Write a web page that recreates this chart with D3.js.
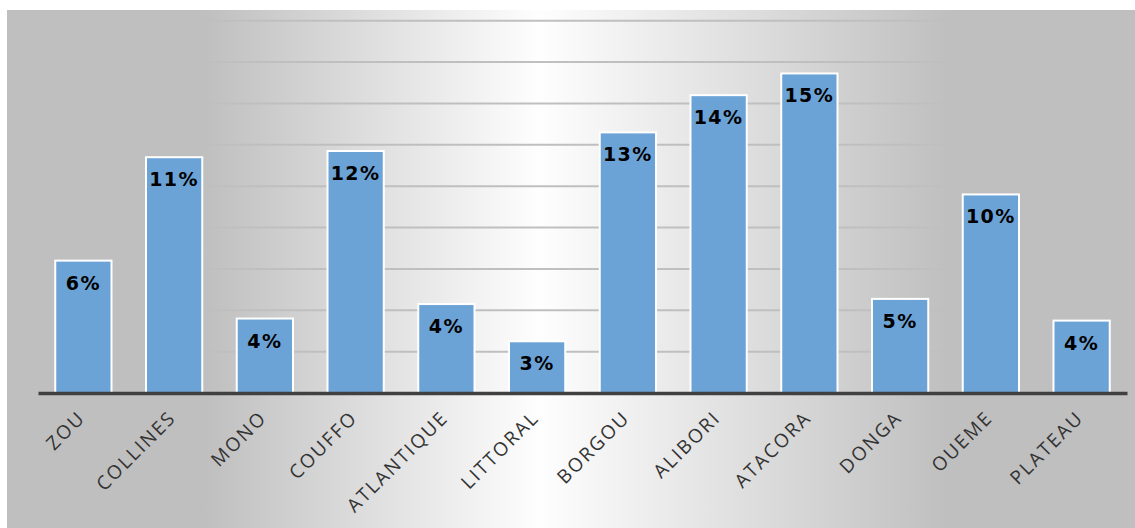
<!DOCTYPE html>
<html lang="fr">
  <head>
    <meta charset="utf-8">
    <title>Répartition par département</title>
    <script src="https://d3js.org/d3.v7.min.js"></script>
    <style>
      body { margin: 0; background: #ffffff; }
      svg { display: block; }
      .value {
        font-family: "DejaVu Sans", sans-serif;
        font-size: 19px;
        font-weight: bold;
        letter-spacing: 1.5px;
        fill: #000000;
        text-anchor: middle;
      }
      .cat {
        font-family: "Open Sans", sans-serif;
        font-size: 19px;
        letter-spacing: 2px;
        fill: #333333;
        text-anchor: end;
      }
      .grid line { stroke: #bfbfbf; stroke-width: 2; }
    </style>
  </head>
  <body>
    <script>
    // data
    const departements = ['ZOU', 'COLLINES', 'MONO', 'COUFFO', 'ATLANTIQUE', 'LITTORAL',
                          'BORGOU', 'ALIBORI', 'ATACORA', 'DONGA', 'OUEME', 'PLATEAU'];
    const parts = [6.4, 11.4, 3.6, 11.7, 4.3, 2.5, 12.6, 14.4, 15.45, 4.55, 9.6, 3.5];
    const gridTicks = [2, 4, 6, 8, 10, 12, 14, 16, 18];

    // layout
    const width = 1135, height = 528;
    const margin = {top: 20.7, right: 8, bottom: 135, left: 38};

    const svg = d3.select('body').append('svg')
      .attr('width', width)
      .attr('height', height);

    // background gradient (flat grey on the sides, white toward the centre)
    const grad = svg.append('defs').append('linearGradient')
      .attr('id', 'bg')
      .attr('x1', '0%').attr('x2', '100%')
      .attr('y1', '0%').attr('y2', '0%');
    [[0, '#bfbfbf'], [0.175, '#bfbfbf'], [0.472, '#fefefe'], [0.835, '#bfbfbf'], [1, '#bfbfbf']]
      .forEach(s => grad.append('stop').attr('offset', s[0]).attr('stop-color', s[1]));

    svg.append('rect')
      .attr('x', 7).attr('y', 10)
      .attr('width', width - 7).attr('height', height - 10)
      .attr('fill', 'url(#bg)');

    // scales
    const x = d3.scaleBand()
      .domain(departements)
      .range([margin.left, width - margin.right])
      .paddingInner(0.38)
      .paddingOuter(0.19);

    const y = d3.scaleLinear()
      .domain([0, 18])
      .range([height - margin.bottom, margin.top]);

    // gridlines
    svg.append('g')
      .attr('class', 'grid')
      .selectAll('line')
      .data(gridTicks)
      .join('line')
      .attr('x1', margin.left)
      .attr('x2', width - margin.right)
      .attr('y1', d => y(d))
      .attr('y2', d => y(d));

    // bars
    svg.append('g')
      .selectAll('rect')
      .data(parts)
      .join('rect')
      .attr('x', (d, i) => x(departements[i]))
      .attr('y', d => y(d))
      .attr('width', x.bandwidth())
      .attr('height', d => y(0) - y(d))
      .attr('fill', '#6ca3d7')
      .attr('stroke', '#ffffff')
      .attr('stroke-width', 2);

    // axis line
    const xAxis = svg.append('g')
      .attr('transform', 'translate(0,' + y(0) + ')')
      .call(d3.axisBottom(x).tickSize(0).tickFormat(''));
    xAxis.select('.domain')
      .attr('stroke', '#404040')
      .attr('stroke-width', 3.5);

    // value labels
    svg.append('g')
      .selectAll('text')
      .data(parts)
      .join('text')
      .attr('class', 'value')
      .attr('x', (d, i) => x(departements[i]) + x.bandwidth() / 2)
      .attr('y', d => y(d) + 29)
      .text(d => Math.round(d) + '%');

    // category labels
    svg.append('g')
      .selectAll('text')
      .data(departements)
      .join('text')
      .attr('class', 'cat')
      .attr('transform', d => 'translate(' + (x(d) + x.bandwidth() / 2 + 3) + ',' + (y(0) + 26) + ') rotate(-45)')
      .text(d => d);
    </script>
  </body>
</html>
